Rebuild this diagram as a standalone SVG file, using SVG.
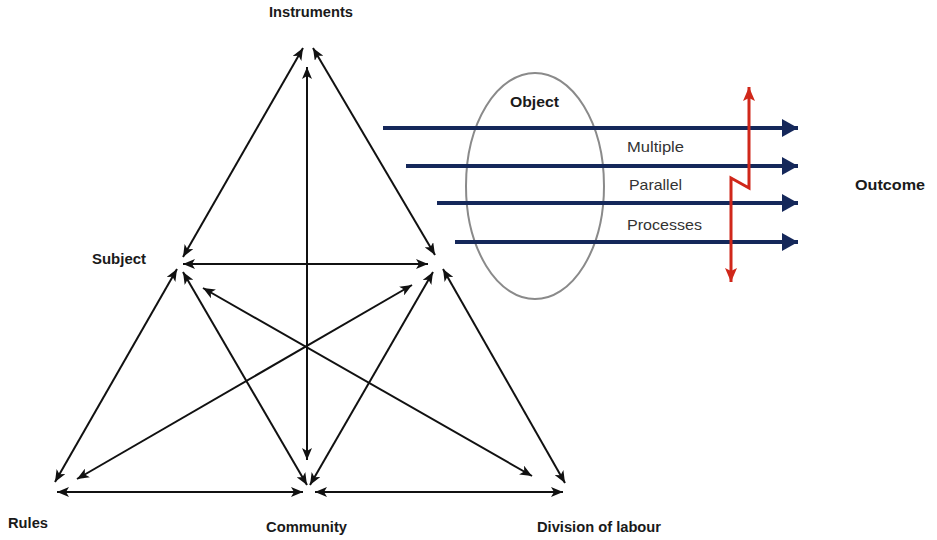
<svg xmlns="http://www.w3.org/2000/svg" width="937" height="540" viewBox="0 0 937 540">
  <style>
    .lbl { font-family: "Liberation Sans", Arial, sans-serif; font-weight: bold; font-size: 14.5px; fill: #1a1a1a; }
    .reg { font-family: "Liberation Sans", Arial, sans-serif; font-size: 14.5px; fill: #333; }
    .blk { stroke: #111; stroke-width: 2; fill: none; marker-start: url(#ah); marker-end: url(#ah); }
    .blue { stroke: #15285a; stroke-width: 4; fill: none; marker-end: url(#bh); }
    .red { stroke: #d0271a; stroke-width: 3; fill: none; stroke-linejoin: miter; marker-start: url(#rh); marker-end: url(#rh); }
  </style>
  <defs>
    <marker id="ah" viewBox="0 0 12 10" refX="12" refY="5" markerWidth="12" markerHeight="10" markerUnits="userSpaceOnUse" orient="auto-start-reverse">
      <path d="M0,0 L12,5 L0,10 L3,5 z" fill="#111"/>
    </marker>
    <marker id="bh" viewBox="0 0 16 18" refX="16" refY="9" markerWidth="16" markerHeight="18" markerUnits="userSpaceOnUse" orient="auto">
      <path d="M0,0 L16,9 L0,18 z" fill="#15285a"/>
    </marker>
    <marker id="rh" viewBox="0 0 14 12" refX="14" refY="6" markerWidth="14" markerHeight="12" markerUnits="userSpaceOnUse" orient="auto-start-reverse">
      <path d="M0,0 L14,6 L0,12 L3,6 z" fill="#d0271a"/>
    </marker>
  </defs>
  <rect width="937" height="540" fill="#fff"/>

  <g id="connectors">
    <line class="blk" x1="303" y1="48" x2="183" y2="257"/>
    <line class="blk" x1="313" y1="48" x2="435" y2="255"/>
    <line class="blk" x1="307" y1="67" x2="307" y2="460"/>
    <line class="blk" x1="183" y1="264" x2="428" y2="264"/>
    <line class="blk" x1="177" y1="269" x2="55" y2="482"/>
    <line class="blk" x1="183" y1="272" x2="307" y2="485"/>
    <line class="blk" x1="433" y1="272" x2="310" y2="485"/>
    <line class="blk" x1="443" y1="269" x2="565" y2="483"/>
    <line class="blk" x1="77" y1="479" x2="412" y2="285"/>
    <line class="blk" x1="203" y1="288" x2="532" y2="476"/>
    <line class="blk" x1="57" y1="492" x2="303" y2="492"/>
    <line class="blk" x1="315" y1="492" x2="563" y2="492"/>
  </g>

  <g id="object">
    <ellipse cx="535" cy="186" rx="69" ry="113" fill="none" stroke="#8a8a8a" stroke-width="2"/>
    <text class="lbl" x="510" y="107" textLength="49" lengthAdjust="spacingAndGlyphs">Object</text>
  </g>

  <g id="processes">
    <line class="blue" x1="383" y1="128" x2="798" y2="128"/>
    <line class="blue" x1="406" y1="166" x2="798" y2="166"/>
    <line class="blue" x1="437" y1="203" x2="798" y2="203"/>
    <line class="blue" x1="455" y1="242" x2="798" y2="242"/>
    <text class="reg" x="627" y="152" textLength="57" lengthAdjust="spacingAndGlyphs">Multiple</text>
    <text class="reg" x="629" y="190" textLength="53" lengthAdjust="spacingAndGlyphs">Parallel</text>
    <text class="reg" x="627" y="230" textLength="75" lengthAdjust="spacingAndGlyphs">Processes</text>
  </g>

  <g id="contradiction">
    <polyline class="red" points="749,87 749,188 731,178 731,282"/>
  </g>

  <g id="instruments"><text class="lbl" x="269" y="17" textLength="84" lengthAdjust="spacingAndGlyphs">Instruments</text></g>
  <g id="subject"><text class="lbl" x="92" y="264" textLength="54" lengthAdjust="spacingAndGlyphs">Subject</text></g>
  <g id="rules"><text class="lbl" x="8" y="528" textLength="40" lengthAdjust="spacingAndGlyphs">Rules</text></g>
  <g id="community"><text class="lbl" x="266" y="532" textLength="81" lengthAdjust="spacingAndGlyphs">Community</text></g>
  <g id="division"><text class="lbl" x="537" y="532" textLength="124" lengthAdjust="spacingAndGlyphs">Division of labour</text></g>
  <g id="outcome"><text class="lbl" x="855" y="190" textLength="70" lengthAdjust="spacingAndGlyphs">Outcome</text></g>
</svg>
